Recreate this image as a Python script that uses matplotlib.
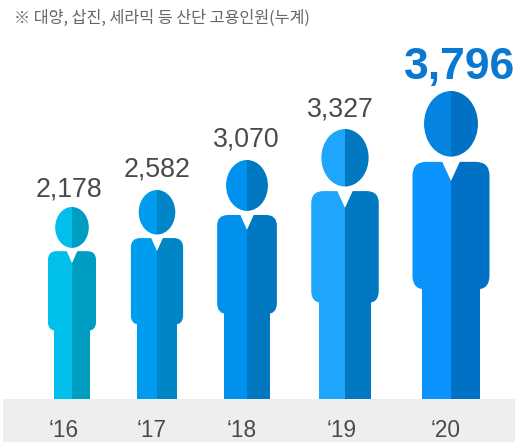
import matplotlib
matplotlib.use("Agg")
import matplotlib.pyplot as plt
from matplotlib.patches import Rectangle, Ellipse, FancyBboxPatch, Polygon

years = ["‘16", "‘17", "‘18", "‘19", "‘20"]
values = [2178, 2582, 3070, 3327, 3796]
# figure heights as drawn in the picture (not quite proportional to the values)
person_heights = [192, 209, 239, 270, 308]

title = "※ 대양, 삽진, 세라믹 등 산단 고용인원(누계)"

# layout, in pixels of the 515x442 picture
W, H = 515, 442
ground = 399
centers = [72, 157, 247, 345, 451]
year_x = [63.5, 152, 242, 341.5, 446]
label_x = [69, 157, 246, 340.5, 460]
label_gap = [11, 13, 13, 12, 12]

left_colors = ["#00BFEB", "#009CF0", "#0091EE", "#1EA6FC", "#0A93FD"]
right_colors = ["#009DC3", "#0085C6", "#0078C1", "#0079C2", "#0071C4"]
head_left = ["#00BFEB", "#009CF0", "#0091EE", "#1EA6FC", "#0583E0"]
text_grey = "#4A4A4A"

plt.rcParams["font.family"] = ["Liberation Sans", "DejaVu Sans"]

fig = plt.figure(figsize=(W / 100, H / 100), dpi=100)
ax = fig.add_axes([0, 0, 1, 1])
ax.set_xlim(0, W)
ax.set_ylim(H, 0)
ax.axis("off")


def draw_half(parts, clip_x, clip_w, clip_top, h):
    clip = Rectangle((clip_x, clip_top), clip_w, h, transform=ax.transData)
    for p in parts:
        ax.add_patch(p)
        p.set_clip_path(clip)


def draw_person(cx, h, c_left, c_right, c_head):
    top = ground - h
    body_top = ground - 0.77 * h
    body_bot = ground - 0.355 * h
    body_w = 0.25 * h
    leg_w = 0.189 * h
    head_w = 0.175 * h
    head_h = 0.213 * h
    for side, body_c, head_c in ((-1, c_left, c_head), (1, c_right, c_right)):
        clip_x = cx - h if side < 0 else cx
        legs = Rectangle((cx - leg_w / 2, body_bot - 5), leg_w, ground - body_bot + 5, fc=body_c, ec="none")
        body = FancyBboxPatch((cx - body_w / 2, body_top), body_w, body_bot - body_top,
                              boxstyle="round,pad=0,rounding_size=%.1f" % (0.045 * h), fc=body_c, ec="none")
        head = Ellipse((cx, top + head_h / 2), head_w, head_h, fc=head_c, ec="none")
        draw_half([legs, body, head], clip_x, h, top - 1, h + 1)
    # white collar
    ax.add_patch(Polygon([(cx - 0.03 * h, body_top - 1), (cx + 0.03 * h, body_top - 1), (cx, body_top + 0.062 * h)],
                         fc="white", ec="none"))


ax.add_patch(Rectangle((3, ground), W - 3, H - ground, fc="#EEEEEE", ec="none"))

for i in range(len(values)):
    h = person_heights[i]
    draw_person(centers[i], h, left_colors[i], right_colors[i], head_left[i])
    last = i == len(values) - 1
    ax.text(label_x[i], ground - h - label_gap[i], format(values[i], ","), ha="center", va="baseline",
            fontsize=32 if last else 19.3, fontweight="bold" if last else "normal",
            color="#0A78D0" if last else text_grey)
    ax.text(year_x[i], 437, years[i], ha="center", va="baseline", fontsize=16.3, color=text_grey)

ax.text(14, 23, title, ha="left", va="baseline", fontsize=11.7, color="#666666",
        family=["Noto Sans CJK KR", "DejaVu Sans"])

fig.savefig("out.png", dpi=100)
